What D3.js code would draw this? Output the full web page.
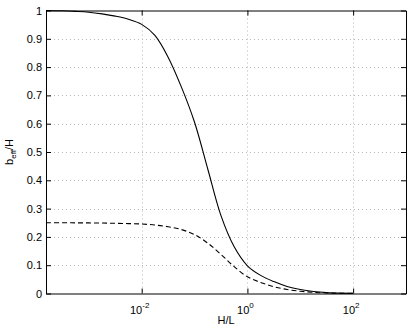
<!DOCTYPE html>
<html>
<head>
<meta charset="utf-8">
<script src="https://cdn.jsdelivr.net/npm/d3@7"></script>
<style>
  body { margin: 0; background: #fff; }
  text { font-family: "Liberation Sans", Arial, sans-serif; fill: #000; }
</style>
</head>
<body>
<div id="chart"></div>
<script>
// values (x is log10 of H/L)
var logHL      = [-3.81, -3.5, -3.25, -3.0, -2.75, -2.5, -2.25, -2.0, -1.75, -1.5, -1.25, -1.0, -0.75, -0.5, -0.25, 0, 0.25, 0.5, 0.75, 1.0, 1.25, 1.5, 1.75, 2.0];
var solidVals  = [1.0, 0.999, 0.997, 0.994, 0.988, 0.98, 0.969, 0.951, 0.912, 0.835, 0.73, 0.605, 0.44, 0.275, 0.165, 0.098, 0.064, 0.042, 0.025, 0.014, 0.007, 0.003, 0.0012, 0.0005];
var dashedVals = [0.25, 0.2499, 0.2497, 0.2494, 0.249, 0.248, 0.247, 0.2455, 0.242, 0.236, 0.226, 0.208, 0.178, 0.138, 0.095, 0.059, 0.039, 0.024, 0.014, 0.008, 0.004, 0.002, 0.0009, 0.0004];

var xTicks = [1e-2, 1, 1e2];
var xTickExp = ["-2", "0", "2"];
var yTicks = [0, 0.1, 0.2, 0.3, 0.4, 0.5, 0.6, 0.7, 0.8, 0.9, 1];
var yTickLabels = ["0", "0.1", "0.2", "0.3", "0.4", "0.5", "0.6", "0.7", "0.8", "0.9", "1"];

var W = 409, H = 330;
var plotLeft = 46, plotRight = 406, plotTop = 10.5, plotBottom = 293.5;

var svg = d3.select("#chart").append("svg")
    .attr("width", W)
    .attr("height", H);

var x = d3.scaleLog().domain([Math.pow(10, -3.81), 1e3]).range([plotLeft, plotRight]);
var y = d3.scaleLinear().domain([0, 1]).range([plotBottom, plotTop]);

// grid
svg.append("g").selectAll("line")
    .data(xTicks)
    .enter().append("line")
    .attr("x1", function(d) { return Math.round(x(d)) + 0.5; })
    .attr("x2", function(d) { return Math.round(x(d)) + 0.5; })
    .attr("y1", plotTop).attr("y2", plotBottom)
    .attr("stroke", "#b8b8b8").attr("stroke-width", 1)
    .attr("stroke-dasharray", "1,3");

svg.append("g").selectAll("line")
    .data(yTicks.slice(1, -1))
    .enter().append("line")
    .attr("y1", function(d) { return Math.round(y(d)) + 0.5; })
    .attr("y2", function(d) { return Math.round(y(d)) + 0.5; })
    .attr("x1", plotLeft).attr("x2", plotRight)
    .attr("stroke", "#b8b8b8").attr("stroke-width", 1)
    .attr("stroke-dasharray", "1,3");

// curves
var solidData = logHL.map(function(d, i) { return [d, solidVals[i]]; });
var dashedData = logHL.map(function(d, i) { return [d, dashedVals[i]]; });

var line = d3.line()
    .x(function(d) { return x(Math.pow(10, d[0])); })
    .y(function(d) { return y(d[1]); })
    .curve(d3.curveCatmullRom.alpha(0.5));

svg.append("path")
    .datum(dashedData)
    .attr("d", line)
    .attr("fill", "none")
    .attr("stroke", "#000")
    .attr("stroke-width", 1.1)
    .attr("stroke-dasharray", "5,3");

svg.append("path")
    .datum(solidData)
    .attr("d", line)
    .attr("fill", "none")
    .attr("stroke", "#000")
    .attr("stroke-width", 1.1);

// axes with inward ticks on all four sides
svg.append("g")
    .attr("transform", "translate(0," + plotBottom + ")")
    .call(d3.axisBottom(x).tickValues(xTicks).tickSizeInner(-5).tickSizeOuter(0).tickFormat(""));
svg.append("g")
    .attr("transform", "translate(0," + plotTop + ")")
    .call(d3.axisTop(x).tickValues(xTicks).tickSizeInner(-5).tickSizeOuter(0).tickFormat(""));
svg.append("g")
    .attr("transform", "translate(" + plotLeft + ",0)")
    .call(d3.axisLeft(y).tickValues(yTicks).tickSizeInner(-5).tickSizeOuter(0).tickFormat(""));
svg.append("g")
    .attr("transform", "translate(" + plotRight + ",0)")
    .call(d3.axisRight(y).tickValues(yTicks).tickSizeInner(-5).tickSizeOuter(0).tickFormat(""));

svg.selectAll(".domain").attr("stroke", "#000");
svg.selectAll(".tick line").attr("stroke", "#000");

// y tick labels
svg.append("g").selectAll("text")
    .data(yTicks)
    .enter().append("text")
    .attr("x", plotLeft - 4)
    .attr("y", function(d) { return y(d) + 4; })
    .attr("text-anchor", "end")
    .style("font-size", "11px")
    .text(function(d, i) { return yTickLabels[i]; });

// x tick labels as powers of ten
var xl = svg.append("g").selectAll("text")
    .data(xTicks)
    .enter().append("text")
    .attr("x", function(d) { return x(d) - 2; })
    .attr("y", plotBottom + 20)
    .attr("text-anchor", "middle")
    .style("font-size", "11px");
xl.append("tspan").text("10");
xl.append("tspan")
    .attr("dy", -6)
    .style("font-size", "8px")
    .text(function(d, i) { return xTickExp[i]; });

// axis titles
svg.append("text")
    .attr("x", (plotLeft + plotRight) / 2)
    .attr("y", 324)
    .attr("text-anchor", "middle")
    .style("font-size", "11px")
    .text("H/L");

var yt = svg.append("text")
    .attr("transform", "translate(13," + ((plotTop + plotBottom) / 2) + ") rotate(-90)")
    .attr("text-anchor", "middle")
    .style("font-size", "11px");
yt.append("tspan").text("b");
yt.append("tspan").attr("dy", 3).style("font-size", "8px").text("eff");
yt.append("tspan").attr("dy", -3).text("/H");
</script>
</body>
</html>
